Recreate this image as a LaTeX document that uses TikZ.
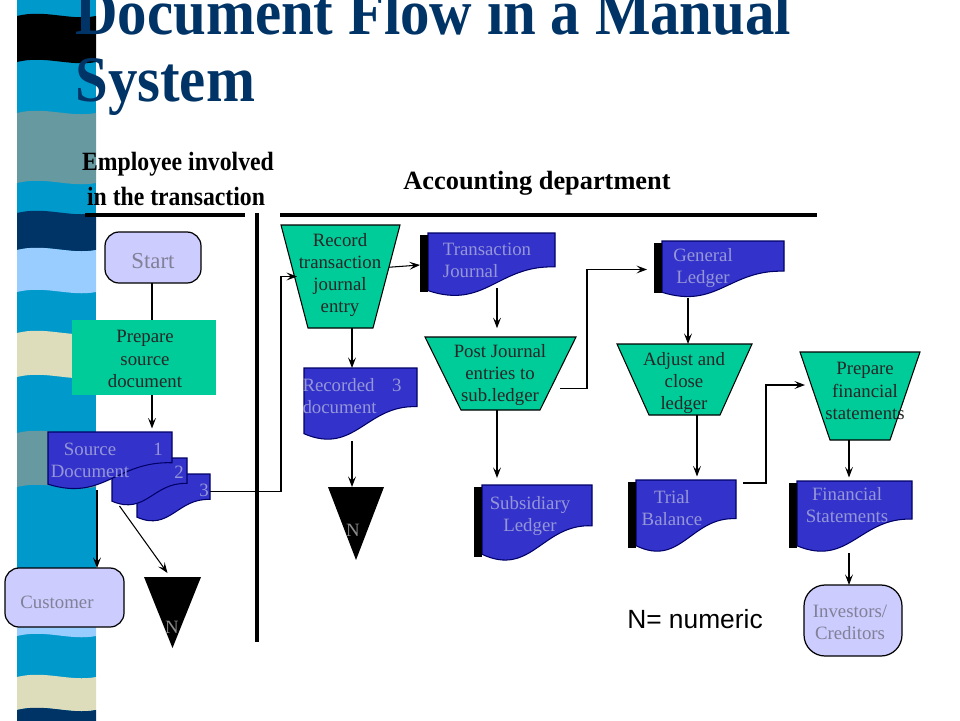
\documentclass[tikz,border=0pt]{standalone}
\usepackage{fontspec}
\setmainfont{Liberation Serif}
\newfontfamily\titlefont[FakeStretch=0.905]{Liberation Serif}
\newfontfamily\headfont[FakeStretch=0.9]{Liberation Serif}
\newfontfamily\legendfont{Liberation Sans}
\usetikzlibrary{arrows.meta,calc,fit}
\definecolor{StripeCyan}{RGB}{0,153,204}
\definecolor{StripeGray}{RGB}{102,153,160}
\definecolor{StripeNavy}{RGB}{0,51,102}
\definecolor{StripeLight}{RGB}{153,204,255}
\definecolor{StripeBeige}{RGB}{221,221,187}
\definecolor{TitleNavy}{RGB}{0,51,102}
\definecolor{DocBlue}{RGB}{51,51,204}
\definecolor{DocEdge}{RGB}{0,0,102}
\definecolor{DocText}{RGB}{150,150,215}
\definecolor{ProcGreen}{RGB}{0,204,153}
\definecolor{TermFill}{RGB}{204,204,255}
\definecolor{TermText}{RGB}{128,128,150}
\pgfdeclarelayer{back}
\pgfsetlayers{back,main}
\tikzset{
  fitbox/.style={inner sep=0pt,outer sep=0pt},
  term/.style={fitbox,draw=black,line width=0.7pt,fill=TermFill,rounded corners=8pt},
  termtext/.style={inner sep=0pt,text=TermText,align=center,font=\fontsize{10.7}{12.5}\selectfont},
  proctext/.style={inner sep=0pt,align=center,text=black!85,font=\fontsize{10.7}{12.6}\selectfont},
  doclabel/.style={inner sep=0pt,text=DocText,align=left,font=\fontsize{10.7}{12.5}\selectfont},
  ntext/.style={inner sep=0pt,text=black!45,font=\fontsize{10.7}{12.5}\selectfont},
  headtext/.style={inner sep=0pt,font=\fontsize{15}{17}\headfont\bfseries},
  docfill/.style={fill=DocBlue,draw=DocEdge,line width=0.6pt},
  procfill/.style={fill=ProcGreen,draw=black,line width=0.6pt},
  flow/.style={draw,line width=0.6pt,-{Stealth[length=6pt,width=4.5pt,inset=2.5pt]}},
  link/.style={draw,line width=0.6pt},
  sepline/.style={line width=1.8pt}
}
% shapes drawn behind the named boxes
\newcommand{\docshape}[1]{%
  \path[docfill] let \p1=(#1.north west), \p2=(#1.south east) in
    (\x1,\y1) -- (\x2,\y1) -- (\x2,{\y1+0.53*(\y2-\y1)})
    .. controls ({\x1+0.55*(\x2-\x1)},{\y1+0.5*(\y2-\y1)}) and ({\x1+0.45*(\x2-\x1)},{\y1+1.2*(\y2-\y1)})
    .. (\x1,{\y1+0.9*(\y2-\y1)}) -- cycle;}
\newcommand{\docbar}[1]{\fill[black] ($(#1.north west)+(-8,2)$) rectangle ($(#1.south west)+(0,-5)$);}
\newcommand{\trapshape}[2]{\path[procfill] (#1.north west) -- (#1.north east)
  -- ($(#1.south east)+(-#2,0)$) -- ($(#1.south west)+(#2,0)$) -- cycle;}
\newcommand{\trishape}[1]{\fill[black] (#1.north west) -- (#1.north east) -- (#1.south) -- cycle;}
\begin{document}
\begin{tikzpicture}[x=0.02cm,y=-0.02cm]
\useasboundingbox (0,0) rectangle (960,720);
\begin{pgfonlayer}{back}
\fill[StripeCyan] (17,0) rectangle (96,720);
\foreach \c/\a/\b in {black/16/62,StripeGray/113/183,StripeNavy/213/250,StripeLight/250/292,
  StripeBeige/333/377,StripeGray/433/487,StripeLight/624/636,StripeBeige/677/710,StripeNavy/710/726}
  \fill[\c] (17,\a) .. controls (45,\a-7) and (70,\a+5) .. (96,\a) -- (96,\b)
    .. controls (70,\b+5) and (45,\b-7) .. (17,\b) -- cycle;
\end{pgfonlayer}

% title and departments
\node[anchor=base west,inner sep=0pt,text=TitleNavy,font=\fontsize{37}{38}\titlefont\bfseries] (title1) at (75,34) {Document Flow in a Manual};
\node[anchor=base west,inner sep=0pt,text=TitleNavy,font=\fontsize{37}{38}\titlefont\bfseries] (title2) at (75,101) {System};
\node[headtext] (emp1) at (178,164) {Employee involved};
\node[headtext] (emp2) at (176,196) {in the transaction};
\node[inner sep=0pt,font=\fontsize{15}{17}\selectfont\bfseries] (acct) at (537,183) {Accounting department};
\draw[sepline] (85,215) -- (245,215);
\draw[line width=2.2pt] (257,213) -- (257,642);
\draw[sepline] (280,215) -- (817,215);

% employee side
\node[term,fit={(105,232)(201,283)}] (start) {};
\node[termtext,font=\fontsize{13}{15}\selectfont] (starttxt) at (153,261) {Start};
\node[fitbox,fill=ProcGreen,fit={(72,320)(216,395)}] (prep) {};
\node[proctext] (preptxt) at (145,359) {Prepare\\source\\document};
\node[fitbox,fit={(48,432)(172,490)}] (src1) {};
\node[fitbox,fit={(112,458)(187,506)}] (src2) {};
\node[fitbox,fit={(137,474)(210,522)}] (src3) {};
\node[doclabel,align=center] (srctxt) at (90,460) {Source\\Document};
\node[doclabel] (num1) at (158,449) {1};
\node[doclabel] (num2) at (179,472) {2};
\node[doclabel] (num3) at (204,490) {3};
\node[term,fit={(5,568)(124,627)}] (cust) {};
\node[termtext] (custtxt) at (57,602) {Customer};
\node[fitbox,fit={(144,577)(201,648)}] (n1) {};
\node[ntext] (n1txt) at (172,627) {N};

% accounting side
\node[fitbox,fit={(281,225)(400,328)}] (rec) {};
\node[proctext] (rectxt) at (340,275) {Record\\transaction\\journal\\entry};
\node[fitbox,fit={(428,233)(555,297)}] (tj) {};
\node[doclabel] (tjtxt) at (487,260) {Transaction\\Journal};
\node[fitbox,fit={(304,368)(417,441)}] (rdoc) {};
\node[doclabel] (rdoctxt) at (352,396) {Recorded\hspace{10pt}3\\document};
\node[fitbox,fit={(328,487)(384,560)}] (n2) {};
\node[ntext] (n2txt) at (353,530) {N};
\node[fitbox,fit={(425,337)(576,410)}] (post) {};
\node[proctext] (posttxt) at (500,375) {Post Journal\\entries to\\sub.ledger};
\node[fitbox,fit={(482,485)(592,562)}] (sub) {};
\node[doclabel,align=center] (subtxt) at (530,516) {Subsidiary\\Ledger};
\node[fitbox,fit={(662,241)(784,298)}] (gl) {};
\node[doclabel,align=center] (gltxt) at (703,268) {General\\Ledger};
\node[fitbox,fit={(617,344)(752,415)}] (adj) {};
\node[proctext] (adjtxt) at (684,383) {Adjust and\\close\\ledger};
\node[fitbox,fit={(636,480)(736,553)}] (tb) {};
\node[doclabel,align=center] (tbtxt) at (672,508) {Trial\\Balance};
\node[fitbox,fit={(800,352)(920,440)}] (pf) {};
\node[proctext] (pftxt) at (865,391) {Prepare\\financial\\statements};
\node[fitbox,fit={(797,481)(912,553)}] (fs) {};
\node[doclabel,align=center] (fstxt) at (847,505) {Financial\\Statements};
\node[term,rounded corners=12pt,fit={(804,585)(902,656)}] (inv) {};
\node[termtext] (invtxt) at (850,622) {Investors/\\Creditors};
\node[inner sep=0pt,font=\fontsize{15}{17}\legendfont] (legend) at (695,619) {N= numeric};

\begin{pgfonlayer}{back}
\docshape{src3} \docshape{src2} \docshape{src1}
\docshape{tj} \docbar{tj}
\docshape{rdoc}
\docshape{sub} \docbar{sub}
\docshape{gl} \docbar{gl}
\docshape{tb} \docbar{tb}
\docshape{fs} \docbar{fs}
\trapshape{rec}{27} \trapshape{post}{36} \trapshape{adj}{32} \trapshape{pf}{30}
\trishape{n1} \trishape{n2}
\end{pgfonlayer}

% document flow
\draw[link] (start.south -| 152,0) -- (prep.north -| 152,0);
\draw[flow,shorten >=2pt] (prep.south -| 152,0) -- (src1.north -| 152,0);
\draw[flow] (src1.south -| 97,0) -- (cust.north -| 97,0);
\draw[flow] ($(src2.south west)!0.1!(src2.south east)$) -- ($(n1.north)+(-5,-4)$);
\draw[flow] ($(src3.north east)!0.37!(src3.south east)$) -| (rec.west) -- ($(rec.west)+(16,0)$);
\draw[flow] ($(rec.north east)!0.41!(rec.south east)+(-11,0)$) -- ($(tj.west)+(-8,0)$);
\draw[flow] (rec.south -| 352,0) -- (rdoc.north -| 352,0);
\draw[flow] (rdoc.south -| 352,0) -- (n2.north -| 352,0);
\draw[flow,shorten >=5pt] ($(tj.south -| 497,0)+(0,-9)$) -- (post.north -| 497,0);
\draw[flow,shorten >=4pt] (post.south -| 497,0) -- (sub.north -| 497,0);
\draw[flow] ($(post.east)+(-16,15)$) -| ($(gl.west)+(-75,0)$) -- ($(gl.west)+(-15,0)$);
\draw[flow] (gl.south -| 688,0) -- (adj.north -| 688,0);
\draw[flow,shorten >=2pt] (adj.south -| 697,0) -- (tb.north -| 697,0);
\draw[flow] ($(tb.north east)+(7,3)$) -| ($(pf.north west)+(-34,33)$) -- ($(pf.north west)+(5,33)$);
\draw[flow,shorten >=2pt] (pf.south -| 849,0) -- (fs.north -| 849,0);
\draw[flow] (fs.south -| 849,0) -- (inv.north -| 849,0);
\end{tikzpicture}
\end{document}
